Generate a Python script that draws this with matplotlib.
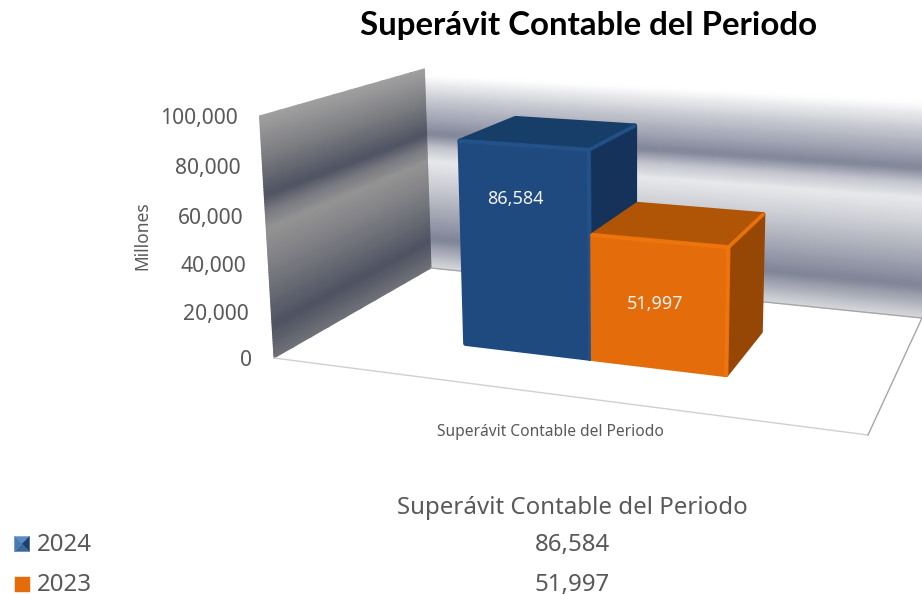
import numpy as np
import matplotlib as mpl
mpl.use('Agg')
import matplotlib.pyplot as plt
from matplotlib.colors import LinearSegmentedColormap
from matplotlib.patches import Polygon

# data
title = 'Superávit Contable del Periodo'
category = 'Superávit Contable del Periodo'
series = ['2024', '2023']
values = [86584, 51997]
y_ticks = [0, 20000, 40000, 60000, 80000, 100000]
y_max = 100000
y_label = 'Millones'

# colours: front, top, side, highlight
colors = [('#1e4a80', '#173d69', '#14325a', '#24538c'),
          ('#e46c0a', '#b05405', '#964605', '#f0760e')]

# bar layout inside the floor
gap_share = 0.266
bar_w = 0.2365
bar_inset = 0.006
depth = (0.30, 0.70)

font = 'Noto Sans'
grey = '#595959'


def homog(src, dst):
    A = []
    b = []
    for (x, y), (X, Y) in zip(src, dst):
        A.append([x, y, 1, 0, 0, 0, -x*X, -y*X])
        b.append(X)
        A.append([0, 0, 0, x, y, 1, -x*Y, -y*Y])
        b.append(Y)
    return np.append(np.linalg.solve(np.array(A, float), np.array(b, float)), 1).reshape(3, 3)


# camera: floor of the chart box, height column fitted to picture points
unit = [(0, 0), (1, 0), (0, 1), (1, 1)]
floor_box = [(274, 358), (868, 435), (431, 268), (922, 318)]
F = homog(unit, floor_box)
fit_pts = [(0, 0, 1, 259, 112), (0, 1, 1, 425, 67),
           (.267, .3, .866, 458, 143), (.5, .3, .866, 588, 152), (.5, .7, .866, 632, 127),
           (.503, .3, .52, 592, 235), (.74, .3, .52, 727, 246), (.74, .7, .52, 762, 218)]
A = []
b = []
for u, d, z, X, Y in fit_pts:
    f = F @ np.array([u, d, 1.0])
    A.append([z, 0, -X * z])
    b.append(X * f[2] - f[0])
    A.append([0, z, -Y * z])
    b.append(Y * f[2] - f[1])
V = np.linalg.lstsq(np.array(A), np.array(b), rcond=None)[0]


def project(u, d, z):
    p = F @ np.array([u, d, 1.0]) + z * V
    return p[:2] / p[2]


fig = plt.figure(figsize=(9.22, 5.95), dpi=100)
ax = fig.add_axes([0, 0, 1, 1])
ax.set_xlim(0, 922)
ax.set_ylim(595, 0)
ax.axis('off')

# walls
zz = np.linspace(0, 1, 81)
uu = np.linspace(0, 1, 11)
back_cmap = LinearSegmentedColormap.from_list('back', [
    (0, '#d8dadf'), (0.07, '#b0b3bc'), (0.15, '#7f8497'), (0.29, '#a8abb7'), (0.44, '#d0d2d8'),
    (0.545, '#e8e9eb'), (0.62, '#c0c2cb'), (0.68, '#7f8497'), (0.74, '#9b9eae'), (0.845, '#c5c7cf'),
    (0.97, '#ffffff'), (1, '#ffffff')])
left_cmap = LinearSegmentedColormap.from_list('left', [
    (0, '#70727a'), (0.07, '#5f626c'), (0.14, '#4f5262'), (0.29, '#6c6e76'), (0.44, '#86868a'),
    (0.545, '#949494'), (0.62, '#777880'), (0.68, '#4f5262'), (0.74, '#60636d'), (0.845, '#7d7e82'),
    (1, '#a0a0a0')])

pts = np.array([[project(u, 1, z) for u in uu] for z in zz])
ax.pcolormesh(pts[..., 0], pts[..., 1], np.tile(zz[:, None], (1, len(uu))), cmap=back_cmap,
              vmin=0, vmax=1, shading='gouraud', zorder=1)
pts = np.array([[project(0, d, z) for d in uu] for z in zz])
ax.pcolormesh(pts[..., 0], pts[..., 1], np.tile(zz[:, None], (1, len(uu))), cmap=left_cmap,
              vmin=0, vmax=1, shading='gouraud', zorder=2)

# floor outline
corners = [project(0, 0, 0), project(1, 0, 0), project(1, 1, 0), project(0, 1, 0)]
xs = [p[0] for p in corners]
ys = [p[1] for p in corners]
ax.plot(xs[:2], ys[:2], color='#d0d0d0', lw=1, zorder=3)
ax.plot(xs[1:3], ys[1:3], color='#a6a6a6', lw=1, zorder=3)
ax.plot(xs[2:4], ys[2:4], color='#a6a6a6', lw=1, zorder=3)

# bars
label_pos = [(-0.016, 0.74), (-0.006, 0.5)]
for i, val in enumerate(values):
    u0 = gap_share + i * bar_w + bar_inset
    u1 = gap_share + (i + 1) * bar_w
    d0, d1 = depth
    z = val / y_max
    front, top, side, hi = colors[i]
    zo = 5 + i
    faces = [
        ([(u1, d0, 0), (u1, d1, 0), (u1, d1, z), (u1, d0, z)], side),
        ([(u0, d0, z), (u1, d0, z), (u1, d1, z), (u0, d1, z)], top),
        ([(u0, d0, 0), (u1, d0, 0), (u1, d0, z), (u0, d0, z)], front),
    ]
    for face, col in faces:
        ax.add_patch(Polygon([project(*p) for p in face], closed=True, fc=col, ec=col, lw=3.5,
                             joinstyle='round', zorder=zo))
    # bevel highlights
    for a, b in [((u0, d0, z), (u1, d0, z)), ((u1, d0, 0), (u1, d0, z)), ((u1, d0, z), (u1, d1, z))]:
        pa = project(*a)
        pb = project(*b)
        ax.plot([pa[0], pb[0]], [pa[1], pb[1]], color=hi, lw=2.5, alpha=0.9, solid_capstyle='round', zorder=zo)
    # data label
    c = project((u0 + u1) / 2 + label_pos[i][0], d0, z * label_pos[i][1])
    ax.text(c[0], c[1], f'{val:,}', color='#f2f2f2', fontsize=13, family=font,
            ha='center', va='center', zorder=10)

# value axis labels
for t in y_ticks:
    p = project(0, 0, t / y_max)
    ax.text(p[0] - 22, p[1] + 3, f'{t:,}', color=grey, fontsize=15.2, family=font,
            ha='right', va='center', zorder=10)

ax.text(142, 236, y_label, color=grey, fontsize=12.5, family=font, rotation=90,
        ha='center', va='center')
ax.text(550, 432, category, color=grey, fontsize=11.2, family=font, ha='center', va='center')
ax.text(589, 26, title, color='black', fontsize=23.8, family='Lato', weight='bold',
        ha='center', va='center')

# data table under the chart
table_y = [544, 584]
ax.text(572, 508, category, color=grey, fontsize=17.3, family=font, ha='center', va='center')
for i, val in enumerate(values):
    y = table_y[i]
    ax.text(37, y + 1, series[i], color=grey, fontsize=17.3, family=font, ha='left', va='center')
    ax.text(572, y + 1, f'{val:,}', color=grey, fontsize=17.3, family=font, ha='center', va='center')
    front, top, side, hi = colors[i]
    cx, cy = 22, y
    k = 7.5
    if i == 0:
        # small pyramid key
        tris = [([(cx-k, cy-k), (cx+k, cy-k), (cx, cy)], '#5a8cc4'),
                ([(cx+k, cy-k), (cx+k, cy+k), (cx, cy)], '#1d3f6c'),
                ([(cx+k, cy+k), (cx-k, cy+k), (cx, cy)], '#3a6896'),
                ([(cx-k, cy+k), (cx-k, cy-k), (cx, cy)], '#477ab0')]
        for tri, col in tris:
            ax.add_patch(Polygon(tri, closed=True, fc=col, ec=col, lw=0.3))
    else:
        ax.add_patch(Polygon([(cx-k, cy-k), (cx+k, cy-k), (cx+k, cy+k), (cx-k, cy+k)], closed=True,
                             fc=front, ec=front, lw=0.3))

plt.savefig('out.png', dpi=100)
